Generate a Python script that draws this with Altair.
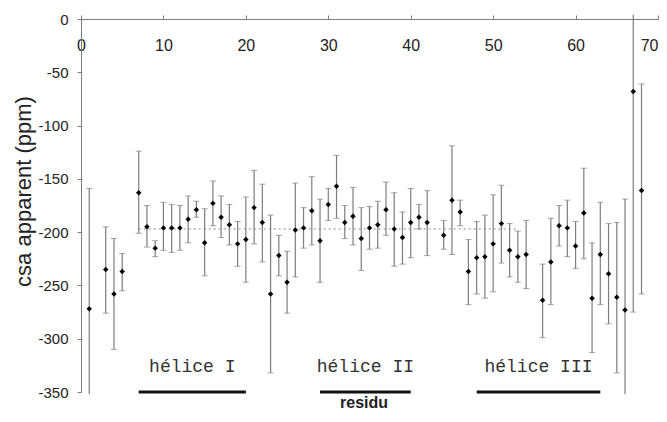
import altair as alt
import pandas as pd

# ---- data ----
residues = [1, 3, 4, 5, 7, 8, 9, 10, 11, 12, 13, 14, 15, 16, 17, 18, 19, 20,
            21, 22, 23, 24, 25, 26, 27, 28, 29, 30, 31, 32, 33, 34, 35, 36, 37, 38, 39, 40, 41, 42,
            44, 45, 46, 47, 48, 49, 50, 51, 52, 53, 54,
            56, 57, 58, 59, 60, 61, 62, 63, 64, 65, 66, 67, 68]
csa = [-272, -235, -258, -237, -163, -195, -215, -196, -196, -196, -188, -179, -210, -173, -186, -193, -211, -207,
       -177, -191, -258, -222, -247, -198, -196, -180, -208, -174, -157, -191, -185, -206, -196, -193, -179, -197, -205, -191, -186, -191,
       -203, -170, -181, -237, -224, -223, -211, -192, -217, -223, -221,
       -264, -228, -194, -196, -213, -182, -262, -221, -239, -261, -273, -68, -161]
upper = [-159, -195, -206, -220, -124, -175, -208, -172, -174, -175, -166, -171, -178, -152, -166, -174, -190, -167,
         -142, -155, -184, -203, -218, -154, -177, -148, -169, -159, -128, -175, -158, -177, -176, -171, -153, -163, -181, -159, -174, -161,
         -189, -119, -170, -207, -190, -184, -165, -156, -192, -199, -189,
         -230, -187, -175, -170, -190, -140, -210, -172, -192, -191, -169, 4, -61]
lower = [-352, -276, -310, -255, -201, -214, -223, -217, -219, -217, -210, -186, -241, -194, -205, -212, -232, -247,
         -211, -228, -332, -241, -276, -242, -215, -212, -247, -189, -187, -206, -212, -236, -216, -215, -203, -232, -230, -224, -197, -222,
         -216, -221, -194, -268, -258, -262, -256, -229, -242, -247, -253,
         -299, -268, -213, -223, -234, -225, -313, -268, -286, -332, -352, -275, -258]

helix_names = ["hélice I", "hélice II", "hélice III"]
helix_start = [7, 29, 48]
helix_end = [20, 40, 63]

mean_value = [-197]
mean_from = [7]
mean_to = [53]

x_ticks = [0, 10, 20, 30, 40, 50, 60, 70]
y_ticks = [-350, -300, -250, -200, -150, -100, -50, 0]

df = pd.DataFrame({"residu": residues, "csa": csa, "hi": upper, "lo": lower})
helix_df = pd.DataFrame({"name": helix_names, "start": helix_start, "end": helix_end})
mean_df = pd.DataFrame({"y": mean_value, "x": mean_from, "x2": mean_to})
title_df = pd.DataFrame({"t": ["residu"]})

W, H = 577, 373
GREY = "#7d7d7d"

xscale = alt.Scale(domain=[0, 70], nice=False, zero=False)
yscale = alt.Scale(domain=[-350, 0], nice=False, zero=False)

xaxis = alt.Axis(orient="top", values=x_ticks, title="", grid=False, tickSize=4,
                 labelPadding=-30, labelBaseline="middle", labelFlush=False,
                 labelAlign={"condition": {"test": "datum.value >= 70", "value": "right"},
                             "value": "center"},
                 labelFont="Liberation Sans", labelFontSize=16, labelColor="#222",
                 domainColor=GREY, tickColor=GREY)
yaxis = alt.Axis(values=y_ticks, title="csa apparent (ppm)", grid=False, tickSize=4,
                 labelPadding=9, labelFont="Liberation Sans", labelFontSize=15,
                 labelColor="#222", domainColor=GREY, tickColor=GREY,
                 labelExpr="'' + datum.value",
                 titleFont="Liberation Sans", titleFontSize=22, titleFontWeight="normal",
                 titleColor="#222", titlePadding=2, titleY=172)

base = alt.Chart(df)

bars = base.mark_rule(color=GREY, strokeWidth=1.2).encode(
    x=alt.X("residu:Q", scale=xscale, axis=xaxis),
    y=alt.Y("hi:Q", scale=yscale, axis=yaxis),
    y2="lo:Q",
)
cap_hi = base.transform_filter(alt.datum.hi <= 0).mark_tick(
    orient="horizontal", size=6, thickness=1, color=GREY).encode(
    x="residu:Q", y="hi:Q")
cap_lo = base.transform_filter(alt.datum.lo >= -350).mark_tick(
    orient="horizontal", size=6, thickness=1, color=GREY).encode(
    x="residu:Q", y="lo:Q")
points = base.mark_point(shape="diamond", filled=True, size=30, color="black", opacity=1).encode(
    x="residu:Q", y="csa:Q")

mean_line = alt.Chart(mean_df).mark_rule(color="#888", strokeDash=[2, 3], strokeWidth=1).encode(
    x="x:Q", x2="x2:Q", y="y:Q")

helix_bars = alt.Chart(helix_df).mark_rule(color="#111", strokeWidth=3).encode(
    x="start:Q", x2="end:Q", y=alt.datum(-350))
helix_text = alt.Chart(helix_df).transform_calculate(
    mid="(datum.start + datum.end) / 2").mark_text(
    font="Liberation Mono", fontSize=18, color="#333", baseline="middle").encode(
    x="mid:Q", y=alt.value(348), text="name:N")

xtitle = alt.Chart(title_df).mark_text(
    font="Liberation Sans", fontSize=16, fontWeight="bold", color="#222", baseline="middle").encode(
    x=alt.value(283), y=alt.value(384), text="t:N")

chart = alt.layer(mean_line, bars, cap_hi, cap_lo, points, helix_bars, helix_text, xtitle).properties(
    width=W, height=H,
    autosize=alt.AutoSizeParams(type="none"),
    padding={"left": 73, "top": 11, "right": 1, "bottom": 18},
    background="white",
).configure_view(strokeWidth=0)

chart.save("out.html", embed_options={"renderer": "svg", "actions": False})
